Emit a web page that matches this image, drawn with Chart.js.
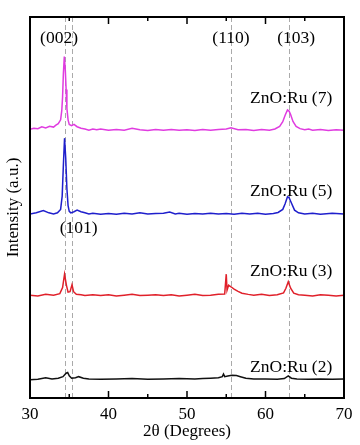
<!DOCTYPE html>
<html>
<head>
<meta charset="utf-8">
<script src="https://cdn.jsdelivr.net/npm/chart.js@4"></script>
<style>
  html, body { margin: 0; padding: 0; background: #fff; }
  #wrap { width: 360px; height: 445px; }
</style>
</head>
<body>
<div id="wrap"><canvas id="myChart" width="360" height="445"></canvas></div>
<script>
// XRD patterns, intensity in arbitrary units (0-100 on the hidden y axis)
let ru7X = [30,30.5,31,31.5,32,32.5,33,33.3,33.6,33.9,34.05,34.15,34.25,34.37,34.5,34.6,34.7,34.85,35.0,35.3,35.6,36.0,36.5,37,37.5,38,38.5,39,40,41,42,43,44,45,46,47,48,49,50,51,52,53,54,55,55.6,56.5,57.5,58.5,59.5,60.5,61.2,61.8,62.2,62.5,62.8,63.0,63.2,63.5,63.9,64.4,65,65.5,66,67,68,69,70];
let ru7Y = [70.5,70.8,70.7,71.2,70.9,71.3,71.1,71.6,72.0,73.0,75.5,79.0,85.0,89.6,86.0,81.0,76.0,73.0,71.8,71.5,71.8,71.2,70.8,70.6,70.3,70.6,70.4,70.6,70.3,70.5,70.3,70.8,70.4,70.2,70.5,70.3,70.5,70.3,70.4,70.2,70.5,70.3,70.5,70.6,70.9,70.4,70.5,70.2,70.5,70.3,70.6,71.3,72.5,74.2,75.6,75.3,74.4,72.6,71.3,70.7,70.4,70.6,70.3,70.5,70.2,70.4,70.3];

let ru5X = [30,30.8,31.7,32.4,33,33.5,33.9,34.1,34.25,34.4,34.55,34.7,34.85,35.0,35.2,35.6,36.0,36.5,37,37.5,38,39,40,41,42,43,44,45,46,47,47.8,48.5,49,50,51,52,53,54,55,56,57,58,59,60,61,61.6,62.2,62.5,62.8,63.0,63.3,63.7,64.2,65,66,67,68.5,70];
let ru5Y = [48.3,48.6,49.2,48.6,48.3,48.6,49.5,53.0,61.0,68.2,63.0,55.0,50.5,49.0,48.6,48.9,49.3,48.9,48.6,48.3,48.5,48.2,48.4,48.2,48.5,48.3,48.6,48.3,48.4,48.5,48.8,48.3,48.5,48.2,48.4,48.3,48.5,48.3,48.4,48.2,48.5,48.3,48.5,48.2,48.4,48.7,49.5,51.0,52.8,52.6,51.2,49.3,48.6,48.3,48.5,48.2,48.5,48.3];

let ru3X = [30,31,32,33,33.8,34.15,34.4,34.65,34.85,35.1,35.35,35.55,35.9,36.5,37,38,39,40,41,42,43,44,45,46,47,48,49,50,51,52,53,54,54.8,55.0,55.1,55.3,55.6,56.0,56.5,57.0,57.8,58.5,59.5,60.5,61.5,62.3,62.6,62.9,63.2,63.6,64.2,65,66,67,68,69,70];
let ru3Y = [27.0,26.8,27.2,27.0,27.4,29.0,32.5,29.5,27.8,27.9,29.7,27.9,27.2,27.1,26.9,27.1,26.9,27.1,26.8,27.0,27.2,26.9,27.0,27.1,26.9,27.1,26.8,27.0,27.2,26.9,27.0,27.2,27.3,32.5,28.3,29.6,29.2,28.6,28.0,27.5,27.2,27.0,27.2,26.9,27.1,27.6,28.8,30.5,28.8,27.5,27.1,27.0,26.8,27.1,27.0,26.8,27.0];

let ru2X = [30,31,32,32.8,33.6,34.2,34.6,34.8,35.0,35.3,35.8,36.2,36.8,37.5,39,41,43,45,47,49,51,52,53,54,54.5,54.65,54.8,55.2,55.7,56.3,56.8,57.5,58.5,60,61.5,62.4,62.9,63.3,64,65.5,67,68.5,70];
let ru2Y = [4.8,4.9,5.3,5.0,5.2,5.6,6.5,6.7,5.8,5.2,5.3,5.6,5.2,5.0,4.9,5.0,5.1,4.9,5.0,5.1,5.0,5.1,5.2,5.3,5.6,6.3,5.6,5.8,6.0,5.9,5.6,5.2,5.0,5.0,4.9,5.1,5.8,5.2,5.0,4.9,5.0,4.9,5.0];

let refLines = [34.4,35.35,55.6,62.95];
let peakLabels = ["(002)","(110)","(103)","(101)"];
let peakLabelX = [33.7,55.6,63.9,36.2];
let peakLabelY = [94.5,94.5,94.5,44.6];
let sampleLabels = ["ZnO:Ru (7)","ZnO:Ru (5)","ZnO:Ru (3)","ZnO:Ru (2)"];
let sampleLabelY = [78.7,54.1,33.1,7.9];
let xTicks = [30,35,40,45,50,55,60,65,70];

function pts(xs, ys) {
  return xs.map((x, i) => ({x: x, y: ys[i]}));
}

const serif = "'Liberation Serif', 'Times New Roman', serif";

const framePlugin = {
  id: 'frame',
  beforeDatasetsDraw(chart) {
    const {ctx, chartArea: a, scales: {x}} = chart;
    ctx.save();
    ctx.strokeStyle = '#aaaaaa';
    ctx.lineWidth = 1;
    ctx.setLineDash([5, 3]);
    refLines.forEach(v => {
      let px = Math.round(x.getPixelForValue(v)) + 0.5;
      ctx.beginPath();
      ctx.moveTo(px, a.top);
      ctx.lineTo(px, a.bottom);
      ctx.stroke();
    });
    ctx.restore();
  },
  afterDraw(chart) {
    const {ctx, chartArea: a, scales: {x, y}} = chart;
    ctx.save();
    ctx.strokeStyle = '#000';
    ctx.lineWidth = 2;
    ctx.strokeRect(a.left, a.top, a.right - a.left, a.bottom - a.top);
    ctx.lineWidth = 1.5;
    xTicks.forEach(v => {
      let px = x.getPixelForValue(v);
      let len = (v % 10 == 0) ? 7 : 4;
      ctx.beginPath();
      ctx.moveTo(px, a.bottom);
      ctx.lineTo(px, a.bottom - len);
      ctx.moveTo(px, a.top);
      ctx.lineTo(px, a.top + len);
      ctx.stroke();
    });

    ctx.fillStyle = '#000';
    ctx.font = '17.5px ' + serif;
    ctx.textBaseline = 'middle';
    ctx.textAlign = 'center';
    peakLabels.forEach((t, i) => {
      ctx.fillText(t, x.getPixelForValue(peakLabelX[i]), y.getPixelForValue(peakLabelY[i]));
    });
    ctx.textAlign = 'right';
    sampleLabels.forEach((t, i) => {
      ctx.fillText(t, x.getPixelForValue(68.5), y.getPixelForValue(sampleLabelY[i]));
    });
    ctx.restore();
  }
};

function line(xs, ys, color) {
  return {
    data: pts(xs, ys),
    borderColor: color,
    borderWidth: 1.5,
    pointRadius: 0,
    tension: 0,
    fill: false
  };
}

new Chart(document.getElementById('myChart'), {
  type: 'line',
  data: {
    datasets: [
      line(ru7X, ru7Y, '#e03ce0'),
      line(ru5X, ru5Y, '#1f1fcc'),
      line(ru3X, ru3Y, '#e0202a'),
      line(ru2X, ru2Y, '#111111')
    ]
  },
  options: {
    responsive: false,
    animation: false,
    layout: { padding: { left: 0, right: 16, top: 17, bottom: 0 } },
    plugins: { legend: { display: false }, tooltip: { enabled: false } },
    scales: {
      x: {
        type: 'linear',
        min: 30,
        max: 70,
        afterFit(scale) { scale.height = 47; },
        grid: { display: false, drawTicks: false },
        border: { display: false },
        ticks: {
          stepSize: 10,
          padding: 6,
          color: '#000',
          font: { family: serif, size: 17 }
        },
        title: {
          display: true,
          text: '2θ (Degrees)',
          color: '#000',
          font: { family: serif, size: 17 },
          padding: { top: 0, bottom: 3 }
        }
      },
      y: {
        min: 0,
        max: 100,
        afterFit(scale) { scale.width = 30; },
        grid: { display: false, drawTicks: false },
        border: { display: false },
        ticks: { display: false },
        title: {
          display: true,
          text: 'Intensity (a.u.)',
          color: '#000',
          font: { family: serif, size: 17 },
          padding: { top: 3, bottom: 0 }
        }
      }
    }
  },
  plugins: [framePlugin]
});
</script>
</body>
</html>
